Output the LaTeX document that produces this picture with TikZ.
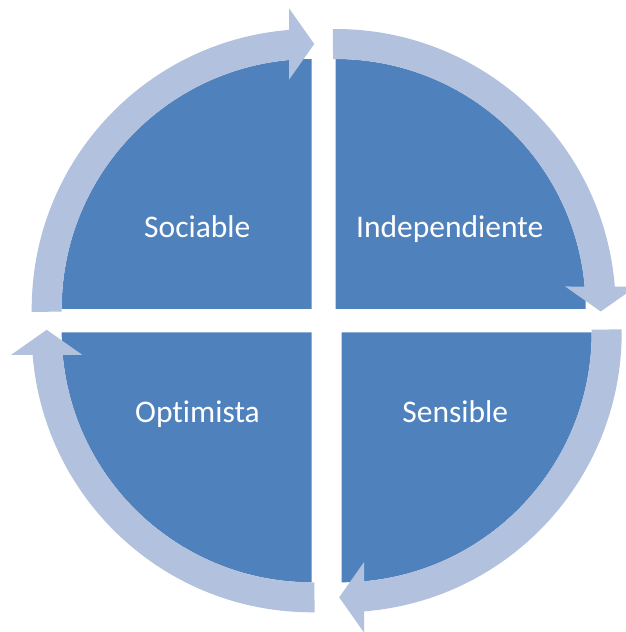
\documentclass[tikz,border=0pt]{standalone}
\usepackage{fontspec}
\setmainfont{Carlito}[Ligatures={NoCommon,NoContextual}]

\definecolor{sectorblue}{RGB}{79,129,189}
\definecolor{ringblue}{RGB}{178,193,221}

\tikzset{
  sector/.style={fill=sectorblue},
  ringarrow/.style={fill=ringblue},
  word/.style={text=white, anchor=base, font=\fontsize{31.5}{38}\selectfont}
}

\begin{document}
\begin{tikzpicture}[x=1pt,y=1pt]
  \useasboundingbox (0,0) rectangle (625,632);

%%%%%%%%%%%%%%%%%%%%%%%%%%%%%%%%%%%%%%%%%%
  % Quarters: corner x / corner y / turn
  \foreach \cx/\cy/\turn in {311.7/323/0, 335.7/323/-90, 341.7/299.7/-180, 311.7/299.7/-270}{
    \begin{scope}[shift={(\cx,\cy)}, rotate=\turn]
      % Sector
      \fill[sector] (0,0) -- (180:250) arc[start angle=180, end angle=90, radius=250] -- cycle;
      % Arrow round the sector
      \fill[ringarrow] (180.6:280) arc[start angle=180.6, end angle=94.6, radius=280]
        -- (-22.5,300.5) -- (2.5,265) -- (-22.5,229.5)
        -- (95.16:250) arc[start angle=95.16, end angle=180.6, radius=250] -- cycle;
    \end{scope}
  }

%%%%%%%%%%%%%%%%%%%%%%%%%%%%%%%%%%%%%%%%%%
  % Labels
  \node[word] (sociable) at (197.3,394.7) {Sociable};
  \node[word] (independiente) at (449.7,394.7) {Independiente};
  \node[word] (optimista) at (197.5,209.2) {Optimista};
  \node[word] (sensible) at (455.3,209.2) {Sensible};

\end{tikzpicture}
\end{document}
